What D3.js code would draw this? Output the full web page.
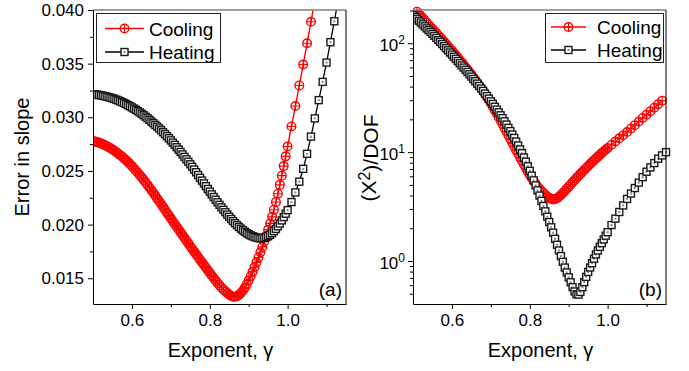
<!DOCTYPE html>
<html><head><meta charset="utf-8">
<script src="https://cdn.jsdelivr.net/npm/d3@7"></script>
<style>
html,body{margin:0;padding:0;background:#fff;}
svg{display:block;font-family:"Liberation Sans",Arial,Helvetica,sans-serif;}
</style></head><body>
<svg id="chart" width="689" height="371"></svg>
<script>
// Exponent values (shared x for every series)
const gamma = [
  0.500,0.505,0.510,0.515,0.520,0.525,0.530,0.535,0.540,0.545,
  0.550,0.555,0.560,0.565,0.570,0.575,0.580,0.585,0.590,0.595,
  0.600,0.605,0.610,0.615,0.620,0.625,0.630,0.635,0.640,0.645,
  0.650,0.655,0.660,0.665,0.670,0.675,0.680,0.685,0.690,0.695,
  0.700,0.705,0.710,0.715,0.720,0.725,0.730,0.735,0.740,0.745,
  0.750,0.755,0.760,0.765,0.770,0.775,0.780,0.785,0.790,0.795,
  0.800,0.805,0.810,0.815,0.820,0.825,0.830,0.835,0.840,0.845,
  0.850,0.855,0.860,0.865,0.870,0.875,0.880,0.885,0.890,0.895,
  0.900,0.905,0.910,0.915,0.920,0.925,0.930,0.935,0.940,0.945,
  0.950,0.955,0.960,0.965,0.970,0.975,0.980,0.985,0.990,0.995,
  1.000,
  1.01,1.02,1.03,1.04,1.05,1.06,1.07,1.08,1.09,1.10,1.11,1.12,1.13,1.14,1.15];

// (a) error in slope
const coolingSlopeErr = [
  0.02780,0.02775,0.02770,0.02764,0.02757,0.02749,0.02741,0.02732,0.02722,0.02711,
  0.02700,0.02688,0.02675,0.02661,0.02647,0.02632,0.02616,0.02599,0.02582,0.02564,
  0.02545,0.02525,0.02505,0.02484,0.02462,0.02440,0.02417,0.02394,0.02370,0.02346,
  0.02321,0.02296,0.02270,0.02244,0.02218,0.02192,0.02165,0.02138,0.02111,0.02084,
  0.02058,0.02032,0.02006,0.01980,0.01954,0.01928,0.01902,0.01876,0.01850,0.01825,
  0.01799,0.01773,0.01748,0.01723,0.01698,0.01673,0.01648,0.01623,0.01599,0.01574,
  0.01550,0.01526,0.01502,0.01479,0.01456,0.01435,0.01414,0.01395,0.01378,0.01362,
  0.01347,0.01335,0.01327,0.01327,0.01333,0.01345,0.01362,0.01384,0.01410,0.01443,
  0.01480,0.01519,0.01560,0.01603,0.01648,0.01694,0.01742,0.01792,0.01843,0.01897,
  0.01953,0.02011,0.02072,0.02139,0.02210,0.02288,0.02370,0.02456,0.02545,0.02636,
  0.02728,
  0.02915,0.03105,0.03297,0.03492,0.03690,0.03890,0.04092];
const heatingSlopeErr = [
  0.03215,0.03213,0.03211,0.03208,0.03205,0.03201,0.03197,0.03193,0.03188,0.03183,
  0.03177,0.03171,0.03164,0.03157,0.03149,0.03141,0.03132,0.03123,0.03113,0.03103,
  0.03092,0.03081,0.03070,0.03058,0.03046,0.03033,0.03020,0.03006,0.02991,0.02976,
  0.02960,0.02945,0.02929,0.02913,0.02896,0.02879,0.02861,0.02843,0.02824,0.02805,
  0.02785,0.02764,0.02743,0.02721,0.02699,0.02677,0.02654,0.02631,0.02608,0.02585,
  0.02562,0.02538,0.02513,0.02488,0.02462,0.02436,0.02410,0.02384,0.02358,0.02332,
  0.02307,0.02282,0.02257,0.02232,0.02208,0.02184,0.02161,0.02138,0.02116,0.02094,
  0.02073,0.02052,0.02032,0.02013,0.01995,0.01978,0.01962,0.01947,0.01934,0.01921,
  0.01910,0.01900,0.01892,0.01885,0.01879,0.01875,0.01872,0.01873,0.01876,0.01883,
  0.01892,0.01905,0.01920,0.01939,0.01960,0.01984,0.02010,0.02039,0.02070,0.02102,
  0.02135,
  0.02210,0.02300,0.02400,0.02520,0.02660,0.02820,0.02990,0.03160,0.03330,0.03510,
  0.03700,0.03895,0.04095];

// (b) reduced chi-square
const coolingChi2 = [
  214,204,195,186,178,170,162,155,148,141,
  135,129,124,118,113,108,103,98.4,94.0,89.6,
  85.5,81.5,77.6,73.9,70.3,66.8,63.5,60.3,57.3,54.3,
  51.5,48.7,46.1,43.5,41.1,38.9,36.8,34.4,32.2,30.1,
  28.1,26.1,24.3,22.6,21.0,19.5,18.1,16.7,15.5,14.3,
  13.2,12.2,11.3,10.4,9.66,8.94,8.28,7.67,7.11,6.62,
  6.17,5.79,5.43,5.13,4.84,4.61,4.39,4.22,4.05,3.92,
  3.80,3.73,3.68,3.70,3.78,3.89,4.04,4.21,4.40,4.61,
  4.82,5.04,5.28,5.52,5.78,6.04,6.31,6.58,6.87,7.16,
  7.46,7.77,8.09,8.41,8.75,9.09,9.44,9.81,10.2,10.5,
  10.9,
  11.7,12.5,13.4,14.3,15.3,16.5,17.7,19.1,20.6,22.1,23.8,25.6,27.6,29.7];
const heatingChi2 = [
  182,175,168,161,155,149,143,137,132,127,
  122,117,112,107,103,98.4,94.0,90.0,86.1,82.3,
  78.7,75.2,71.9,68.7,65.6,62.6,59.8,57.1,54.5,51.9,
  49.4,47.0,44.8,42.6,40.5,38.4,36.5,34.5,32.7,31.0,
  29.3,27.7,26.1,24.6,23.2,21.8,20.5,19.2,17.9,16.7,
  15.6,14.5,13.5,12.5,11.5,10.6,9.77,8.93,8.17,7.42,
  6.73,6.08,5.50,4.95,4.45,3.99,3.57,3.20,2.86,2.55,
  2.28,2.04,1.82,1.60,1.41,1.25,1.11,0.983,0.871,0.785,
  0.708,0.638,0.575,0.525,0.495,0.492,0.520,0.575,0.640,0.715,
  0.794,0.872,0.955,1.05,1.15,1.25,1.35,1.46,1.58,1.71,
  1.84,
  2.14,2.45,2.82,3.24,3.72,4.17,4.68,5.25,5.89,6.61,7.24,7.94,8.71,9.33,10.0];

// Axis ticks
const xMajorTicks = [0.6, 0.8, 1.0];
const xMinorTicks = [0.7, 0.9, 1.1];
const slopeMajorTicks = [0.015, 0.020, 0.025, 0.030, 0.035, 0.040];
const slopeMinorTicks = [0.0175, 0.0225, 0.0275, 0.0325, 0.0375];
const chiMajorTicks = [1, 10, 100];
const chiMinorTicks = [0.5,0.6,0.7,0.8,0.9,2,3,4,5,6,7,8,9,20,30,40,50,60,70,80,90,200];

const seriesNames = ["Cooling", "Heating"];
const RED = "#ff0000";

const svg = d3.select("#chart");

// crossed open circle
function circleMarkers(g, pts, color) {
  const m = g.selectAll(null).data(pts).join("g")
    .attr("transform", d => `translate(${d[0]},${d[1]})`);
  m.append("circle").attr("r", 4.3).attr("fill", "none").attr("stroke", color).attr("stroke-width", 1.4);
  m.append("path").attr("d", "M-4.3,0H4.3M0,-4.3V4.3").attr("stroke", color).attr("stroke-width", 1.1);
}
// open square with centre dot
function squareMarkers(g, pts) {
  const m = g.selectAll(null).data(pts).join("g")
    .attr("transform", d => `translate(${d[0]},${d[1]})`);
  m.append("rect").attr("x", -3.5).attr("y", -3.5).attr("width", 7).attr("height", 7)
    .attr("fill", "#fff").attr("stroke", "#1a1a1a").attr("stroke-width", 1.4);
  m.append("rect").attr("x", -1).attr("y", -1).attr("width", 2).attr("height", 2).attr("fill", "#888");
}

function drawPanel(cfg) {
  const {id, left, right, top, bottom, y, cooling, heating, yMajor, yMinor, yFormat, isLog, tag} = cfg;
  const x = d3.scaleLinear().domain([0.5, 1.15]).range([left, right]);
  const g = svg.append("g");

  const clipId = "clip-" + id, clipM = "clipm-" + id;
  const defs = svg.append("defs");
  defs.append("clipPath").attr("id", clipId).append("rect")
    .attr("x", left).attr("y", top).attr("width", right - left).attr("height", bottom - top);
  defs.append("clipPath").attr("id", clipM).append("rect")
    .attr("x", left).attr("y", top - 5).attr("width", right - left + 5).attr("height", bottom - top + 5);

  const [y0, y1] = y.domain();
  const inside = v => v >= Math.min(y0, y1) && v <= Math.max(y0, y1);
  const line = d3.line().x(d => x(d[0])).y(d => y(d[1]));

  const cPts = cooling.map((v, i) => [gamma[i], v]);
  const hPts = heating.map((v, i) => [gamma[i], v]);

  // cooling
  g.append("path").datum(cPts).attr("d", line).attr("fill", "none")
    .attr("stroke", RED).attr("stroke-width", 1.4).attr("clip-path", `url(#${clipId})`);
  const cm = g.append("g").attr("clip-path", `url(#${clipM})`);
  circleMarkers(cm, cPts.filter(d => inside(d[1])).map(d => [x(d[0]), y(d[1])]), RED);
  // heating
  g.append("path").datum(hPts).attr("d", line).attr("fill", "none")
    .attr("stroke", "#000").attr("stroke-width", 1.3).attr("clip-path", `url(#${clipId})`);
  const hm = g.append("g").attr("clip-path", `url(#${clipM})`);
  squareMarkers(hm, hPts.filter(d => inside(d[1])).map(d => [x(d[0]), y(d[1])]));

  // frame: top grey, right black
  g.append("line").attr("x1", left).attr("x2", right).attr("y1", top).attr("y2", top)
    .attr("stroke", "#808080").attr("stroke-width", 1.5);
  g.append("line").attr("x1", right).attr("x2", right).attr("y1", top).attr("y2", bottom)
    .attr("stroke", "#000").attr("stroke-width", 1);

  // x axis
  const xa = g.append("g").attr("transform", `translate(0,${bottom})`);
  xa.call(d3.axisBottom(x).tickValues(xMajorTicks).tickSize(5).tickSizeOuter(0).tickPadding(5)
    .tickFormat(d3.format(".1f")));
  const xm = g.append("g").attr("transform", `translate(0,${bottom})`);
  xm.call(d3.axisBottom(x).tickValues(xMinorTicks).tickSize(3).tickSizeOuter(0).tickFormat(""));
  xm.select(".domain").remove();

  // y axis
  const ya = g.append("g").attr("transform", `translate(${left},0)`);
  ya.call(d3.axisLeft(y).tickValues(yMajor).tickSize(5).tickSizeOuter(0).tickPadding(4)
    .tickFormat(isLog ? () => "" : yFormat));
  const ym = g.append("g").attr("transform", `translate(${left},0)`);
  ym.call(d3.axisLeft(y).tickValues(yMinor).tickSize(3).tickSizeOuter(0).tickFormat(""));
  ym.select(".domain").remove();

  [xa, xm, ya, ym].forEach(a => {
    a.selectAll("path,line").attr("stroke", "#000").attr("stroke-width", 1);
    a.selectAll("text").attr("fill", "#000").style("font-size", "17px")
      .style("font-family", "'Liberation Sans',Arial,sans-serif");
  });

  if (isLog) {
    ya.selectAll(".tick text").each(function(d) {
      const t = d3.select(this).text("").attr("x", -8).attr("dy", "0.42em");
      t.append("tspan").text("10");
      t.append("tspan").attr("dy", "-0.55em").style("font-size", "12px")
        .text(String(Math.round(Math.log10(d))));
    });
  }

  // panel tag
  g.append("text").attr("x", right - 4).attr("y", bottom - 8).attr("text-anchor", "end")
    .style("font-size", "19px").text(tag);

  // x title
  const xt = g.append("text").attr("x", (left + right) / 2 + 1).attr("y", 357)
    .attr("text-anchor", "middle").style("font-size", "20px");
  xt.append("tspan").text("Exponent, ");
  xt.append("tspan").text("\u03b3");

  return {x, g};
}

// Panel (a)
const ySlope = d3.scaleLinear().domain([0.0126, 0.040]).range([304, 10]);
drawPanel({id: "a", left: 93, right: 346, top: 10, bottom: 304, y: ySlope,
  cooling: coolingSlopeErr, heating: heatingSlopeErr,
  yMajor: slopeMajorTicks, yMinor: slopeMinorTicks, yFormat: d3.format(".3f"), isLog: false, tag: "(a)"});

// Panel (b)
const yChi = d3.scaleLog().domain([0.403, 202]).range([304, 10]);
drawPanel({id: "b", left: 413, right: 666, top: 10, bottom: 304, y: yChi,
  cooling: coolingChi2, heating: heatingChi2,
  yMajor: chiMajorTicks, yMinor: chiMinorTicks, yFormat: null, isLog: true, tag: "(b)"});

// y titles
svg.append("text").attr("transform", "translate(29,157) rotate(-90)")
  .attr("text-anchor", "middle").style("font-size", "20px").text("Error in slope");
const yt = svg.append("text").attr("transform", "translate(376,158) rotate(-90)")
  .attr("text-anchor", "middle").style("font-size", "21px");
yt.append("tspan").text("(X");
yt.append("tspan").attr("dy", "-0.35em").style("font-size", "16px").text("2");
yt.append("tspan").attr("dy", "0.35em").text(")/DOF");

// legends
function legend(x0, y0, w, h, lx0, lx1, tx, rows) {
  const g = svg.append("g");
  g.append("rect").attr("x", x0).attr("y", y0).attr("width", w).attr("height", h)
    .attr("fill", "#fff").attr("stroke", "#222").attr("stroke-width", 1);
  rows.forEach((ry, i) => {
    const col = i === 0 ? RED : "#000";
    g.append("line").attr("x1", lx0).attr("x2", lx1).attr("y1", ry).attr("y2", ry)
      .attr("stroke", col).attr("stroke-width", 1.3);
    const mx = (lx0 + lx1) / 2;
    if (i === 0) circleMarkers(g.append("g"), [[mx, ry]], RED);
    else squareMarkers(g.append("g"), [[mx, ry]]);
    g.append("text").attr("x", tx).attr("y", ry + 7).style("font-size", "19px").text(seriesNames[i]);
  });
}
legend(96.5, 13.5, 124, 49, 105, 144, 149, [28.5, 52]);
legend(545.5, 13.5, 118, 49, 551, 586, 597, [27, 50]);
</script>
</body></html>
